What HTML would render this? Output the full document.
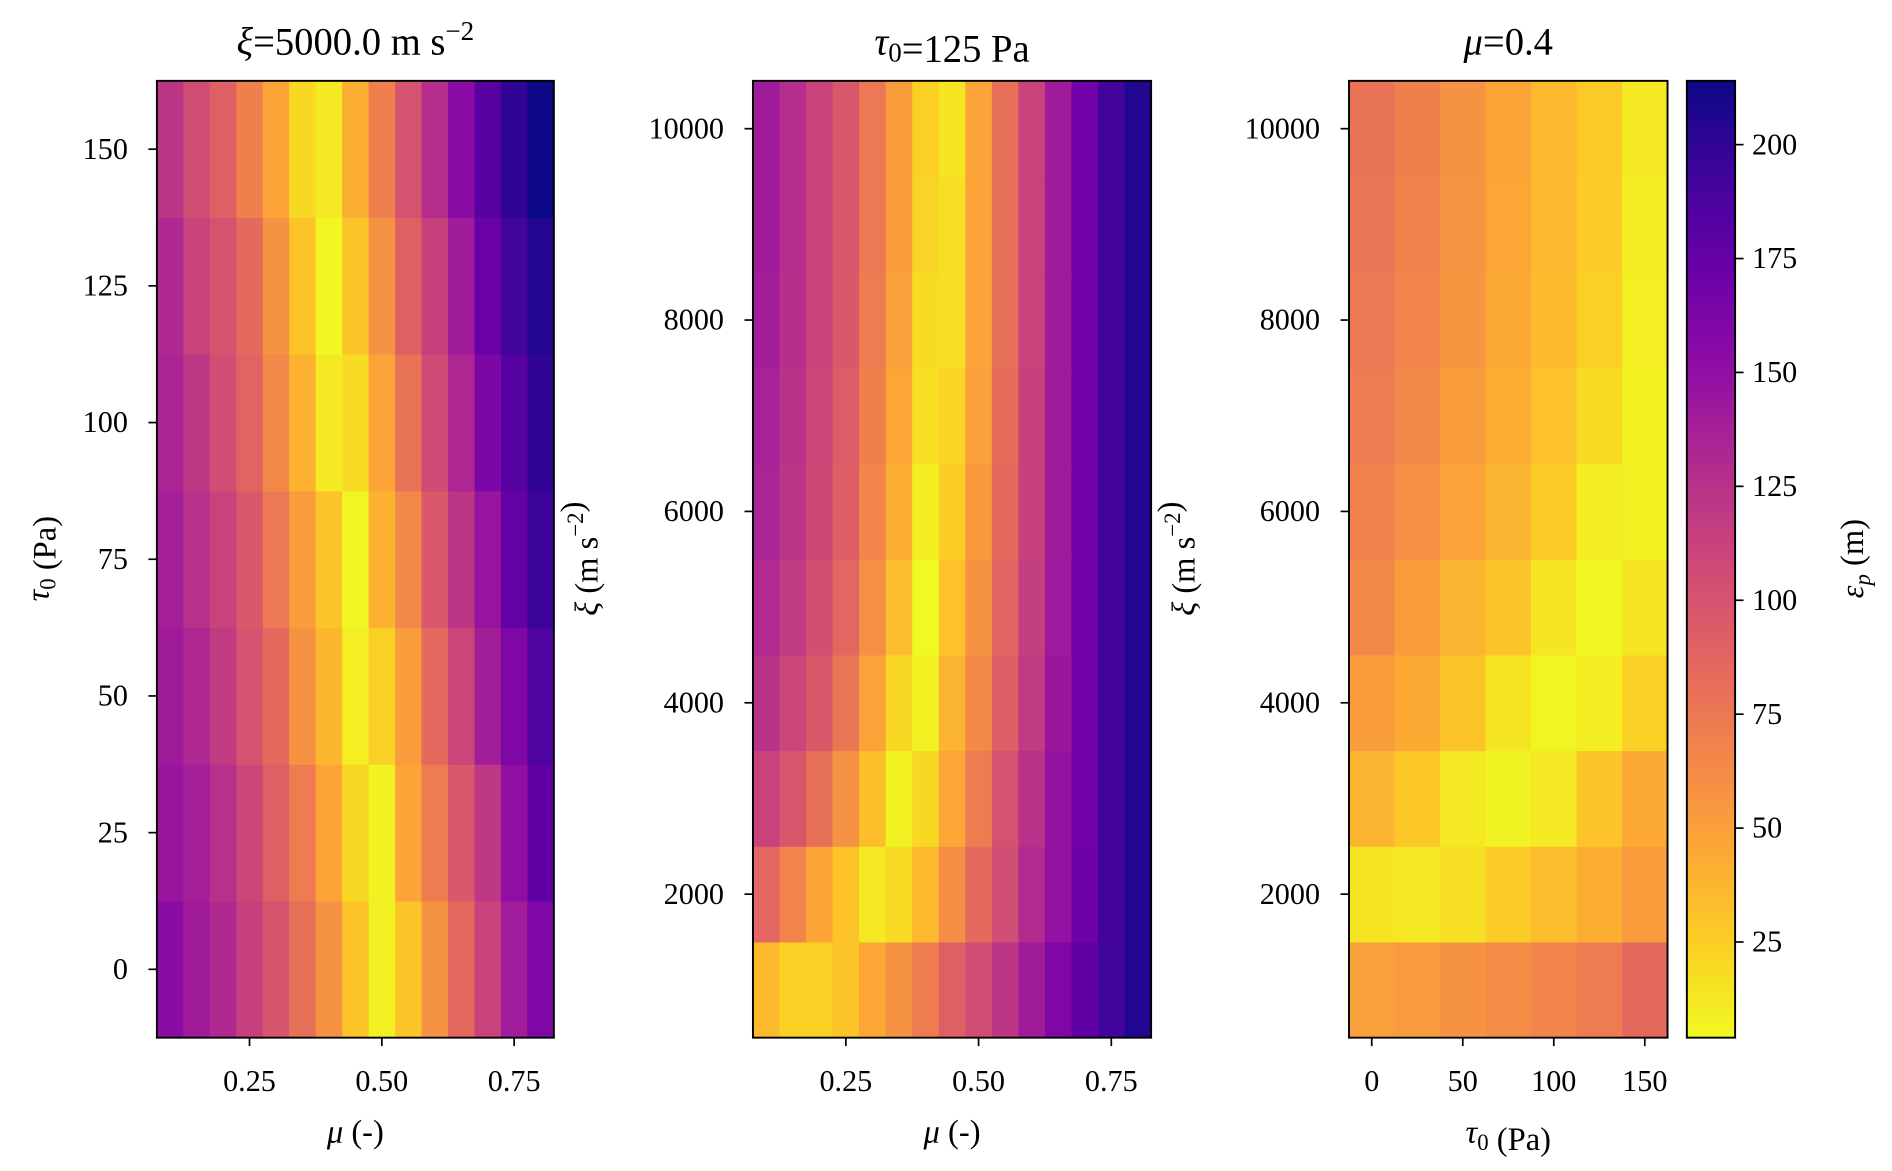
<!DOCTYPE html>
<html><head><meta charset="utf-8"><style>
html,body{margin:0;padding:0;background:#fff;}
svg{display:block;font-family:"Liberation Serif","DejaVu Serif",serif;}
</style></head><body>
<svg id="fig" width="1892" height="1171" viewBox="0 0 1568 970.5" xmlns="http://www.w3.org/2000/svg"></svg>
<script>
// ---- data ----
const muCats = [0.1,0.15,0.2,0.25,0.3,0.35,0.4,0.45,0.5,0.55,0.6,0.65,0.7,0.75,0.8];
const tauCats = [0,25,50,75,100,125,150];
const xiCats = [1000,2000,3000,4000,5000,6000,7000,8000,9000,10000];
// panel 1: rows tau (0..150), cols mu
const p1Values = [
 [153,141,131,114,99,80,58,30,8,30,58,85,112,140,160],
 [145,138,125,109,91,72,47,20,8,47,72,96,120,150,177],
 [141,132,118,100,84,58,37,9,24,52,85,110,139,160,186],
 [138,125,112,96,74,52,30,6,40,64,96,121,146,175,195],
 [134,120,105,88,64,40,12,18,47,78,106,132,161,182,200],
 [131,112,100,84,58,30,5,30,58,91,114,141,172,192,205],
 [122,105,91,70,47,20,12,42,70,100,127,153,181,200,214]
];
// panel 2: rows xi (1000..10000), cols mu
const p2Values = [
 [36,24,24,30,46,58,72,91,105,121,141,160,177,193,206],
 [86,67,47,30,12,18,36,61,84,105,129,148,170,192,206],
 [112,98,80,58,33,8,20,46,72,100,124,148,168,192,206],
 [124,110,96,76,48,20,8,38,64,92,118,144,168,192,206],
 [130,118,103,86,60,34,4,32,58,88,115,142,168,192,206],
 [134,122,108,92,66,42,10,25,54,84,113,141,168,192,206],
 [136,124,109,93,70,46,16,22,50,82,113,141,168,192,206],
 [139,126,111,96,72,50,18,16,47,80,112,141,168,192,206],
 [141,127,112,97,74,52,22,16,47,80,112,141,168,192,206],
 [141,127,112,97,74,52,24,14,47,80,112,141,168,192,206]
];
// panel 3: rows xi (1000..10000), cols tau
const p3Values = [
 [50,53,58,62,66,72,84],
 [14,13,16,26,34,42,52],
 [38,28,12,7,12,30,44],
 [52,44,30,14,6,10,24],
 [64,52,38,30,14,5,14],
 [68,60,48,38,26,10,8],
 [72,64,52,42,32,18,8],
 [75,67,56,45,35,24,9],
 [76,68,57,46,36,26,10],
 [78,70,58,47,36,27,12]
];
const muTicks = [0.25,0.5,0.75];
const muTickLabels = ["0.25","0.50","0.75"];
const tauTicks = [0,25,50,75,100,125,150];
const tauXTicks = [0,50,100,150];
const xiTicks = [2000,4000,6000,8000,10000];
const cbTicks = [25,50,75,100,125,150,175,200];
const vmin = 4, vmax = 214;

// ---- colormap (plasma reversed) ----
const plasma = ["#0d0887","#41049d","#6a00a8","#8f0da4","#b12a90","#cc4778","#e16462","#f2844b","#fca636","#fcce25","#f0f921"];
function hex(h){return [1,3,5].map(i=>parseInt(h.substr(i,2),16));}
const pl = plasma.map(hex);
function cmap(v){
  let t = 1 - (v - vmin)/(vmax - vmin);
  t = Math.max(0, Math.min(1, t));
  const f = t*10, i = Math.min(9, Math.floor(f)), r = f - i;
  const a = pl[i], b = pl[i+1];
  return "rgb(" + a.map((c,k)=>Math.round(c+(b[k]-c)*r)).join(",") + ")";
}

const svg = document.getElementById('fig');
const NS = "http://www.w3.org/2000/svg";
function mk(tag, attrs, parent){
  const e = document.createElementNS(NS, tag);
  for (const k in attrs) e.setAttribute(k, attrs[k]);
  (parent||svg).appendChild(e); return e;
}
function lin(d0,d1,r0,r1){return v => r0 + (v-d0)/(d1-d0)*(r1-r0);}

const TOP = 67, BOT = 860;
function panel(name, x0, x1, xDom, yDom, xCats, yCats, vals, xStep, yStep, xt, xtl, yt, title, xlabel, ylabel, ylabX){
  const g = mk('g', {});
  
  
  const X = lin(xDom[0], xDom[1], x0, x1), Y = lin(yDom[0], yDom[1], BOT, TOP);
  yCats.forEach((yv, ri) => {
    xCats.forEach((xv, ci) => {
      const xa = X(xv - xStep/2), xb = X(xv + xStep/2);
      const ya = Y(yv + yStep/2), yb = Y(yv - yStep/2);
      const r = mk('rect', {x: xa, y: ya, width: xb - xa + 0.4, height: yb - ya + 0.4, fill: cmap(vals[ri][ci])}, g);
      
      
    });
  });
  const fr = mk('rect', {x: x0, y: TOP, width: x1 - x0, height: BOT - TOP, fill: 'none', stroke: '#000', 'stroke-width': 1.6}, g);
  
  
  xt.forEach((t, i) => {
    const x = X(t);
    mk('line', {x1: x, x2: x, y1: BOT, y2: BOT + 7, stroke: '#000', 'stroke-width': 1.4}, g);
    const tx = mk('text', {x: x, y: 904, 'font-size': 25, 'text-anchor': 'middle'}, g);
    
    
    tx.textContent = xtl[i];
  });
  yt.forEach(t => {
    const y = Y(t);
    mk('line', {x1: x0 - 7, x2: x0, y1: y, y2: y, stroke: '#000', 'stroke-width': 1.4}, g);
    const tx = mk('text', {x: x0 - 24, y: y + 8, 'font-size': 25, 'text-anchor': 'end'}, g);
    
    
    tx.textContent = String(t);
  });
  const ti = mk('text', {x: (x0 + x1)/2, y: 45, 'font-size': 32, 'text-anchor': 'middle'}, g);
  
  
  ti.innerHTML = title;
  const xl = mk('text', {x: (x0 + x1)/2, y: 947, 'font-size': 27, 'text-anchor': 'middle'}, g);
  
  
  xl.innerHTML = xlabel;
  const yl = mk('text', {x: ylabX, y: 463, 'font-size': 27, 'text-anchor': 'middle', transform: 'rotate(-90 ' + ylabX + ' 463)'}, g);
  
  
  yl.innerHTML = ylabel;
}
const it = s => '<tspan font-style="italic">' + s + '</tspan>';
const sub = s => '<tspan font-size="0.7em" dy="6">' + s + '</tspan><tspan dy="-6"></tspan>';
const sup = s => '<tspan font-size="0.7em" dy="-12">' + s + '</tspan><tspan dy="12"></tspan>';
const xiUnit = it('ξ') + ' (m s' + sup('−2') + ')';

panel('panel-xi-5000', 130, 459, [0.075, 0.825], [-12.5, 162.5], muCats, tauCats, p1Values, 0.05, 25,
  muTicks, muTickLabels, tauTicks, it('ξ') + '=5000.0 m s' + sup('−2'), it('μ') + ' (-)', it('τ') + sub('0') + ' (Pa)', 40);
panel('panel-tau-125', 624, 954, [0.075, 0.825], [500, 10500], muCats, xiCats, p2Values, 0.05, 1000,
  muTicks, muTickLabels, xiTicks, it('τ') + sub('0') + '=125 Pa', it('μ') + ' (-)', xiUnit, 495);
panel('panel-mu-0.4', 1118, 1382, [-12.5, 162.5], [500, 10500], tauCats, xiCats, p3Values, 25, 1000,
  tauXTicks, tauXTicks.map(String), xiTicks, it('μ') + '=0.4', it('τ') + sub('0') + ' (Pa)', xiUnit, 990);

// ---- colorbar ----
const cb = mk('g', {});


const defs = mk('defs', {}, cb);
const grad = mk('linearGradient', {id: 'cbg', x1: 0, y1: 1, x2: 0, y2: 0}, defs);
for (let i = 0; i <= 20; i++) {
  const v = vmin + (vmax - vmin) * i / 20;
  mk('stop', {offset: (i/20), 'stop-color': cmap(v)}, grad);
}
const CX0 = 1398, CX1 = 1438;
mk('rect', {x: CX0, y: TOP, width: CX1 - CX0, height: BOT - TOP, fill: 'url(#cbg)', stroke: '#000', 'stroke-width': 1.6}, cb);
const CY = lin(vmin, vmax, BOT, TOP);
cbTicks.forEach(t => {
  const y = CY(t);
  mk('line', {x1: CX1, x2: CX1 + 7, y1: y, y2: y, stroke: '#000', 'stroke-width': 1.4}, cb);
  const tx = mk('text', {x: CX1 + 14, y: y + 8, 'font-size': 25}, cb);
  
  
  tx.textContent = String(t);
});
const cl = mk('text', {x: 1544, y: 463, 'font-size': 27, 'text-anchor': 'middle', transform: 'rotate(-90 1544 463)'}, cb);


cl.innerHTML = it('ε') + '<tspan font-size="0.7em" font-style="italic" dy="6">p</tspan><tspan dy="-6"> (m)</tspan>';
</script>
</body></html>
